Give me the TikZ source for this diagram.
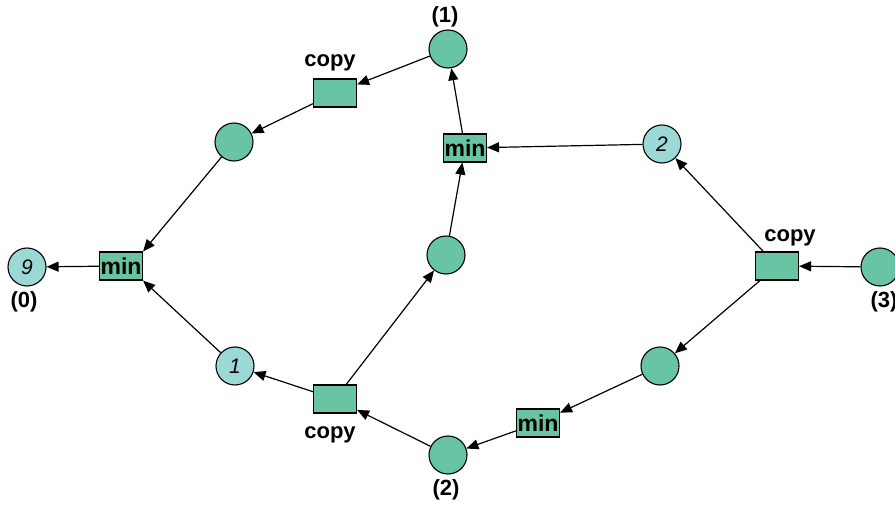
\documentclass[tikz,border=0pt]{standalone}
\usepackage{fontspec}
\setmainfont{Liberation Sans}
\usetikzlibrary{arrows.meta}
\definecolor{pg}{RGB}{104,196,163}
\definecolor{pc}{RGB}{155,216,214}
\tikzset{
  place/.style={circle,draw=black,line width=1.1pt,fill=pg,minimum size=38pt,inner sep=0pt},
  val/.style={place,fill=pc,font=\fontsize{21}{21}\selectfont\itshape},
  trans/.style={rectangle,draw=black,line width=1.1pt,fill=pg,minimum width=43pt,minimum height=28pt,inner sep=0pt,font=\fontsize{23}{23}\selectfont\bfseries},
  lbl/.style={font=\fontsize{22}{22}\selectfont\bfseries,inner sep=0pt},
  arc/.style={draw=black,line width=1.2pt,-{Triangle[length=12pt,width=10pt]},shorten >=0pt}
}
\begin{document}
\begin{tikzpicture}[x=1pt,y=-1pt]
\useasboundingbox (0,0) rectangle (895,505);
% nodes
\node[val] (p0) at (27,267) {9};
\node[trans] (minL) at (121,266) {min};
\node[place] (pTL) at (234,142) {};
\node[trans] (copyT) at (335,93) {};
\node[place] (p1) at (448,49) {};
\node[trans] (minT) at (465,148) {min};
\node[val] (pv2) at (662,144) {2};
\node[place] (pM) at (446,255) {};
\node[trans] (copyR) at (777,266) {};
\node[place] (p3) at (880,267) {};
\node[place] (pBR) at (660,366) {};
\node[trans] (minB) at (538,423) {min};
\node[place] (p2) at (448,455) {};
\node[trans] (copyB) at (335,399) {};
\node[val] (pv1) at (235,366) {1};
% labels
\node[lbl] (l0) at (24,302) {(0)};
\node[lbl] (l1) at (445,17) {(1)};
\node[lbl] (l2) at (446,490) {(2)};
\node[lbl] (l3) at (884,302) {(3)};
\node[lbl] (lcT) at (330,63) {copy};
\node[lbl] (lcR) at (790,238) {copy};
\node[lbl] (lcB) at (330,435) {copy};
% arcs
\draw[arc] (minL) -- (p0);
\draw[arc] (pTL) -- (minL.north east);
\draw[arc] (pv1) -- (minL.south east);
\draw[arc] (copyT) -- (pTL);
\draw[arc] (p1) -- (copyT);
\draw[arc] (minT) -- (p1);
\draw[arc] (pM) -- (minT);
\draw[arc] (copyB) -- (pM);
\draw[arc] (copyB) -- (pv1);
\draw[arc] (p2) -- (copyB);
\draw[arc] (minB) -- (p2);
\draw[arc] (pBR) -- (minB);
\draw[arc] (copyR) -- (pBR);
\draw[arc] (copyR) -- (pv2);
\draw[arc] (pv2) -- (minT);
\draw[arc] (p3) -- (copyR);
\end{tikzpicture}
\end{document}
